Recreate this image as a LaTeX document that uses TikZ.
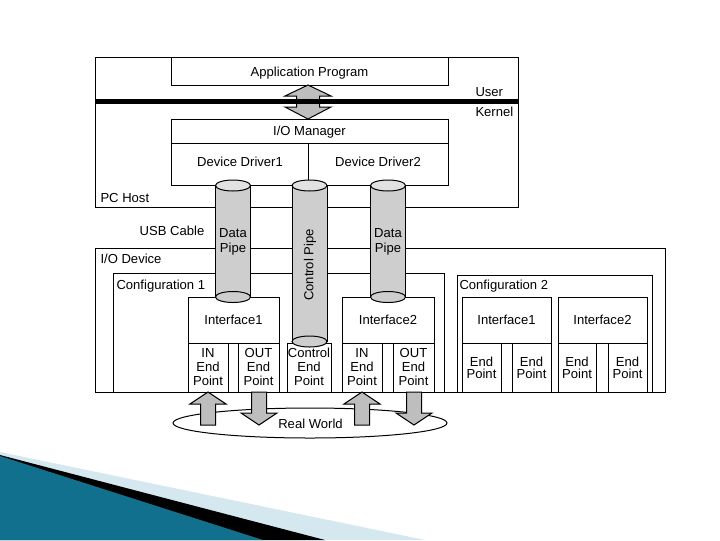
\documentclass[tikz,border=0pt]{standalone}
\usepackage{fontspec}
\setmainfont{Liberation Sans}
\definecolor{pipegray}{RGB}{206,206,206}
\definecolor{pipetop}{RGB}{226,226,226}
\definecolor{arrowgray}{RGB}{190,190,190}
\definecolor{swooshdark}{RGB}{16,112,142}
\definecolor{swooshlight}{RGB}{92,186,216}
\definecolor{swooshpale}{RGB}{214,232,239}
\begin{document}
\begin{tikzpicture}[x=0.75pt,y=-0.75pt,line width=0.75pt,
    every node/.style={font=\fontsize{9.8}{10}\selectfont,inner sep=0pt,align=center},
    blockarrow/.style={draw,fill=arrowgray},
    pipeend/.style={draw,fill=pipegray},
    eptext/.style={font=\fontsize{9.8}{10.4}\selectfont},
    eptextb/.style={font=\fontsize{9.8}{9.2}\selectfont}]

  \useasboundingbox (0,0) rectangle (720,540);

  \fill[swooshpale] (0,452) -- (425,540) -- (0,540) -- cycle;
  \fill[black] (0,455) -- (325,540) -- (0,540) -- cycle;
  \shade[left color=swooshdark,middle color=swooshlight,right color=swooshdark] (0,456) -- (263,540) -- (0,540) -- cycle;

  \draw (95,57) rectangle (518,207);
  \draw (171,57) rectangle (448,85);
  \draw (171,119) rectangle (448,185);
  \draw (171,143) -- (448,143);
  \draw (308,143) -- (308,185);
  \draw[blockarrow] (308,85) -- (331,96) -- (319.5,96) -- (319.5,107) -- (331,107) -- (308,119)
    -- (285,107) -- (296.5,107) -- (296.5,96) -- (285,96) -- cycle;
  \draw[line width=3.6pt] (95,101.7) -- (518,101.7);

  \draw (95,248) rectangle (665,392);
  \draw (113,273) rectangle (444,392);
  \draw (457,275) rectangle (652,392);
  \foreach \xa/\xb/\xc/\xd in {188/228/238/279,342/382/393/434,462/501/512/551,558/596/608/647}
  {
    \draw (\xa,297) rectangle (\xd,392);
    \draw (\xa,343) -- (\xd,343);
    \draw (\xb,343) -- (\xb,392);
    \draw (\xc,343) -- (\xc,392);
  }
  \draw (287,343) rectangle (331,392);

  \foreach \cx/\by in {233/297,309.5/341.5,388/297}
  {
    \fill[pipegray] (\cx-17.5,185.5) rectangle (\cx+17.5,\by);
    \draw (\cx-17.5,185.5) -- (\cx-17.5,\by) (\cx+17.5,185.5) -- (\cx+17.5,\by);
    \draw[pipeend] (\cx,\by) ellipse (17.5 and 5.5);
    \draw[fill=pipetop] (\cx,185.5) ellipse (17.5 and 5.5);
  }

  \draw (310,423) ellipse (137 and 15);
  \foreach \cx in {208,362}
    \draw[blockarrow] (\cx,392) -- (\cx+18,404) -- (\cx+7.5,404) -- (\cx+7.5,425)
      -- (\cx-7.5,425) -- (\cx-7.5,404) -- (\cx-18,404) -- cycle;
  \foreach \cx in {259,414}
    \draw[blockarrow] (\cx,425) -- (\cx+18,413) -- (\cx+7.5,413) -- (\cx+7.5,392)
      -- (\cx-7.5,392) -- (\cx-7.5,413) -- (\cx-18,413) -- cycle;

  \node[anchor=base] (appprog) at (309.5,76) {Application Program};
  \node[anchor=base west] (user) at (475,96) {User};
  \node[anchor=base west] (kernel) at (475,116.7) {Kernel};
  \node[anchor=base] (iomgr) at (309.5,135.3) {I/O Manager};
  \node[anchor=base] (drvA) at (240,166) {Device Driver1};
  \node[anchor=base] (drvB) at (378,166) {Device Driver2};
  \node[anchor=base west] (pchost) at (100,202) {PC Host};
  \node[anchor=base] (usbcable) at (172,235.7) {USB Cable};
  \node[anchor=base west] (iodev) at (100,263) {I/O Device};
  \node[anchor=base west] (cfgA) at (116,289) {Configuration 1};
  \node[anchor=base west] (cfgB) at (459,289) {Configuration 2};
  \node[font=\fontsize{9.8}{11}\selectfont] (pipeA) at (233,242) {Data\\Pipe};
  \node[font=\fontsize{9.8}{11}\selectfont] (pipeB) at (388,242) {Data\\Pipe};
  \node[rotate=90,anchor=base] (ctrlpipe) at (313.3,265) {Control Pipe};
  \node[anchor=base] (ifA) at (233.5,324.7) {Interface1};
  \node[anchor=base] (ifB) at (388,324.7) {Interface2};
  \node[anchor=base] (ifC) at (506.5,324.7) {Interface1};
  \node[anchor=base] (ifD) at (602.5,324.7) {Interface2};
  \node[eptext] (inA) at (208,367) {IN\\End\\Point};
  \node[eptext] (outA) at (258.5,367) {OUT\\End\\Point};
  \node[eptext] (ctrlep) at (309,367) {Control\\End\\Point};
  \node[eptext] (inB) at (362,367) {IN\\End\\Point};
  \node[eptext] (outB) at (413.5,367) {OUT\\End\\Point};
  \foreach \ex [count=\i] in {481.5,531.5,577,627.5}
    \node[eptextb] (ep\i) at (\ex,367.5) {End\\Point};
  \node[anchor=base] (realworld) at (310.5,428.3) {Real World};

\end{tikzpicture}
\end{document}
